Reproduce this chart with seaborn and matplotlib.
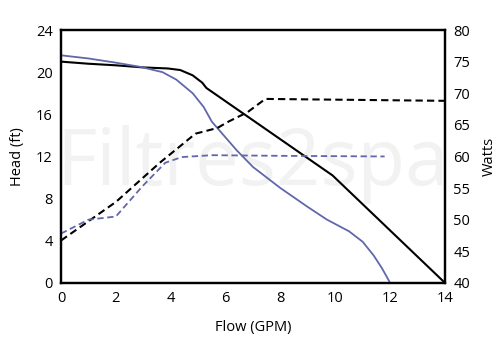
import matplotlib
matplotlib.use("Agg")
import matplotlib.pyplot as plt
import seaborn as sns
import pandas as pd

# Head curves (ft) vs flow (GPM)
black_head_flow = [0, 1, 2, 3, 3.9, 4.35, 4.8, 5.15, 5.3, 9.9, 14]
black_head_ft = [21.0, 20.8, 20.65, 20.45, 20.35, 20.2, 19.7, 19.0, 18.5, 10.2, 0.0]

blue_head_flow = [0, 1, 2, 2.9, 3.7, 4.2, 4.8, 5.2, 5.5, 5.8, 6.4, 7.0, 8.0, 9.0, 9.7, 10.5, 11.0, 11.4, 11.7, 12.0]
blue_head_ft = [21.6, 21.3, 20.9, 20.5, 20.0, 19.3, 18.0, 16.7, 15.3, 14.4, 12.6, 11.0, 9.0, 7.2, 6.0, 4.9, 3.9, 2.6, 1.4, 0.0]

# Power curves (Watts) vs flow (GPM)
black_watts_flow = [0, 2, 3.6, 4.9, 5.7, 6.1, 6.8, 7.45, 14]
black_watts = [46.7, 52.8, 59.0, 63.6, 64.5, 65.5, 67.0, 69.1, 68.8]

blue_watts_flow = [0, 1.0, 2.0, 2.95, 3.8, 4.4, 5.5, 8.0, 11.8]
blue_watts = [47.8, 50.0, 50.5, 55.2, 59.0, 59.9, 60.2, 60.1, 60.0]

x_ticks = [0, 2, 4, 6, 8, 10, 12, 14]
head_ticks = [0, 4, 8, 12, 16, 20, 24]
watt_ticks = [40, 45, 50, 55, 60, 65, 70, 75, 80]

BLUE = "#6067aa"

sns.set_theme(style="white")
plt.rcParams["font.family"] = ["Open Sans", "DejaVu Sans"]

fig = plt.figure(figsize=(5.0, 3.45), dpi=100)
ax = fig.add_axes([0.122, 0.18, 0.768, 0.733])
ax2 = ax.twinx()

# watermark
ax.text(0.5, 0.47, "Filtres2spa", transform=ax.transAxes, fontsize=56,
        color="#f2f2f2", ha="center", va="center", zorder=0, clip_on=True)

df_bh = pd.DataFrame({"flow": black_head_flow, "head": black_head_ft})
df_uh = pd.DataFrame({"flow": blue_head_flow, "head": blue_head_ft})
df_bw = pd.DataFrame({"flow": black_watts_flow, "watts": black_watts})
df_uw = pd.DataFrame({"flow": blue_watts_flow, "watts": blue_watts})

sns.lineplot(data=df_bh, x="flow", y="head", ax=ax, color="black", lw=1.5,
             estimator=None, sort=False, zorder=3)
sns.lineplot(data=df_uh, x="flow", y="head", ax=ax, color=BLUE, lw=1.3,
             estimator=None, sort=False, zorder=3)
sns.lineplot(data=df_bw, x="flow", y="watts", ax=ax2, color="black", lw=1.5,
             estimator=None, sort=False, dashes=False, linestyle=(0, (3.5, 2)))
sns.lineplot(data=df_uw, x="flow", y="watts", ax=ax2, color=BLUE, lw=1.3,
             estimator=None, sort=False, dashes=False, linestyle=(0, (3.5, 2)))

ax.set_xlim(0, 14)
ax.set_ylim(0, 24)
ax2.set_ylim(40, 80)
ax.set_xticks(x_ticks)
ax.set_yticks(head_ticks)
ax2.set_yticks(watt_ticks)
ax.set_xticklabels([str(v) for v in x_ticks])
ax.set_yticklabels([str(v) for v in head_ticks])
ax2.set_yticklabels([str(v) for v in watt_ticks])

ax.set_xlabel("Flow (GPM)", fontsize=10.5, color="black", labelpad=10)
ax.set_ylabel("Head (ft)", fontsize=10.5, color="black", labelpad=8)
ax2.set_ylabel("Watts", fontsize=10.5, color="black", labelpad=8)

for a in (ax, ax2):
    a.tick_params(axis="both", length=0, labelsize=10.5, colors="black", pad=6)
    a.grid(False)
    for s in a.spines.values():
        s.set_color("black")
        s.set_linewidth(1.6)
ax2.patch.set_alpha(0)

fig.savefig("out.png", dpi=100)
